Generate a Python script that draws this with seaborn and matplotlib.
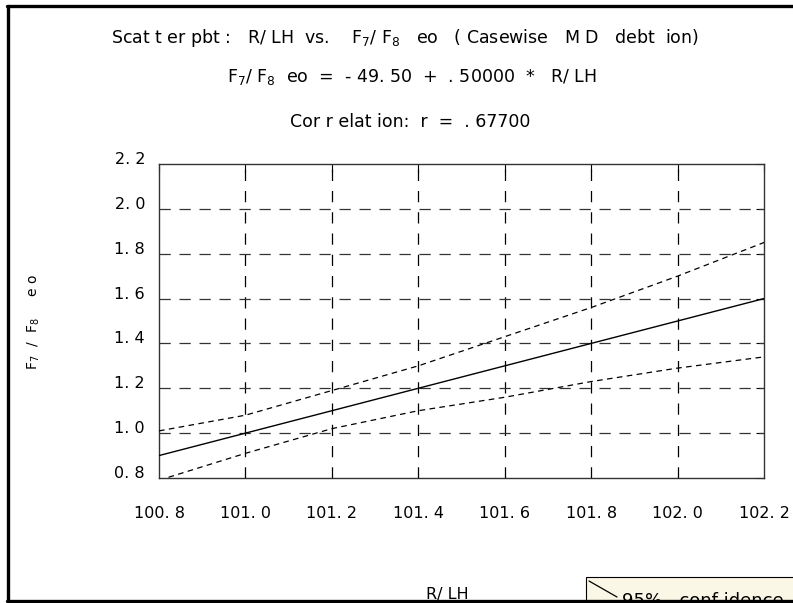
import matplotlib
matplotlib.use("Agg")
import matplotlib.pyplot as plt
import seaborn as sns
import pandas as pd
from matplotlib.lines import Line2D
from matplotlib.patches import Rectangle

# ---- data ----
fit_x = [100.8, 102.2]
fit_y = [0.90, 1.60]
band_x = [100.8, 101.0, 101.2, 101.4, 101.6, 101.8, 102.0, 102.2]
upper_y = [1.01, 1.08, 1.19, 1.30, 1.43, 1.56, 1.70, 1.85]
lower_y = [0.79, 0.91, 1.02, 1.10, 1.16, 1.23, 1.29, 1.34]
x_ticks = [100.8, 101.0, 101.2, 101.4, 101.6, 101.8, 102.0, 102.2]
x_tick_labels = ["100. 8", "101. 0", "101. 2", "101. 4", "101. 6", "101. 8", "102. 0", "102. 2"]
y_ticks = [0.8, 1.0, 1.2, 1.4, 1.6, 1.8, 2.0, 2.2]
y_tick_labels = ["0. 8", "1. 0", "1. 2", "1. 4", "1. 6", "1. 8", "2. 0", "2. 2"]
title1 = "Scat t er pbt :   R/ LH  vs.    F$_7$/ F$_8$   eo   ( Casewise   M D   debt  ion)"
title2 = "F$_7$/ F$_8$  eo  =  - 49. 50  +  . 50000  *   R/ LH"
title3 = "Cor r elat ion:  r  =  . 67700"
x_label = "R/ LH"
y_label = "F$_7$  /  F$_8$     e o"
legend_label = "95%   conf idence"

sns.set_style("white")
plt.rcParams['font.family'] = ['DejaVu Sans']
plt.rcParams['mathtext.fontset'] = 'dejavusans'
plt.rcParams['mathtext.default'] = 'regular'
plt.rcParams['text.color'] = 'black'
plt.rcParams['xtick.color'] = 'black'
plt.rcParams['ytick.color'] = 'black'

W, H = 793, 603
fig = plt.figure(figsize=(W / 100, H / 100), dpi=100)
fig.patch.set_facecolor("white")

def fx(px):
    return px / W

def fy(py):
    return 1 - py / H

ax = fig.add_axes([fx(159), fy(478), (764 - 159) / W, (478 - 164) / H])

fit_df = pd.DataFrame({"x": fit_x, "y": fit_y})
band_df = pd.DataFrame({"x": band_x, "upper": upper_y, "lower": lower_y})

sns.lineplot(data=fit_df, x="x", y="y", ax=ax, color="black", lw=1.0, zorder=3)
sns.lineplot(data=band_df, x="x", y="upper", ax=ax, color="black", lw=0.9,
             zorder=3).lines[-1].set_dashes((4.5, 3.5))
sns.lineplot(data=band_df, x="x", y="lower", ax=ax, color="black", lw=0.9,
             zorder=3).lines[-1].set_dashes((4.5, 3.5))

ax.set_xlim(100.8, 102.2)
ax.set_ylim(0.8, 2.2)
ax.set_xticks(x_ticks)
ax.set_xticklabels(x_tick_labels)
ax.set_yticks(y_ticks)
ax.set_yticklabels(y_tick_labels)
ax.tick_params(axis="both", direction="in", length=6, width=0.8, color="black",
               labelcolor="black", labelsize=11.5, top=True, right=True)
ax.tick_params(axis="x", pad=20)
ax.tick_params(axis="y", pad=10)
for lab in ax.get_yticklabels():
    lab.set_verticalalignment("baseline")

for v in x_ticks[1:-1]:
    ax.axvline(v, color="black", lw=0.9, dashes=(9, 8), zorder=1)
for v in y_ticks[1:-1]:
    ax.axhline(v, color="#333333", lw=0.9, dashes=(9, 7), zorder=1)

for sp in ax.spines.values():
    sp.set_color("#333333")
    sp.set_linewidth(1.0)

ax.set_xlabel("")
ax.set_ylabel("")

fig.text(fx(405), fy(38), title1, ha="center", va="center", fontsize=12.5)
fig.text(fx(412), fy(77), title2, ha="center", va="center", fontsize=12.5)
fig.text(fx(410), fy(122), title3, ha="center", va="center", fontsize=12.5)
fig.text(fx(447), fy(595), x_label, ha="center", va="center", fontsize=11.5)
fig.text(fx(34), fy(322), y_label, ha="center", va="center", fontsize=10, rotation=90)

# figure frame (left, top, bottom)
fig.add_artist(Line2D([fx(8), fx(8)], [fy(6), fy(601)], color="black", lw=2.4))
fig.add_artist(Line2D([fx(7), 1.0], [fy(6), fy(6)], color="black", lw=2.4))

# legend box, cut by the bottom-right corner
fig.add_artist(Rectangle((fx(586), fy(620)), (820 - 586) / W, (620 - 577) / H,
                         facecolor="#fbf7e6", edgecolor="black", lw=0.8,
                         transform=fig.transFigure, clip_on=False))
fig.add_artist(Line2D([fx(589), fx(617)], [fy(581), fy(597)], color="black", lw=0.9))
fig.text(fx(622), fy(606), legend_label, ha="left", va="baseline", fontsize=13)
fig.add_artist(Line2D([fx(7), 1.0], [fy(601), fy(601)], color="black", lw=2.4))

fig.savefig("out.png", dpi=100)
